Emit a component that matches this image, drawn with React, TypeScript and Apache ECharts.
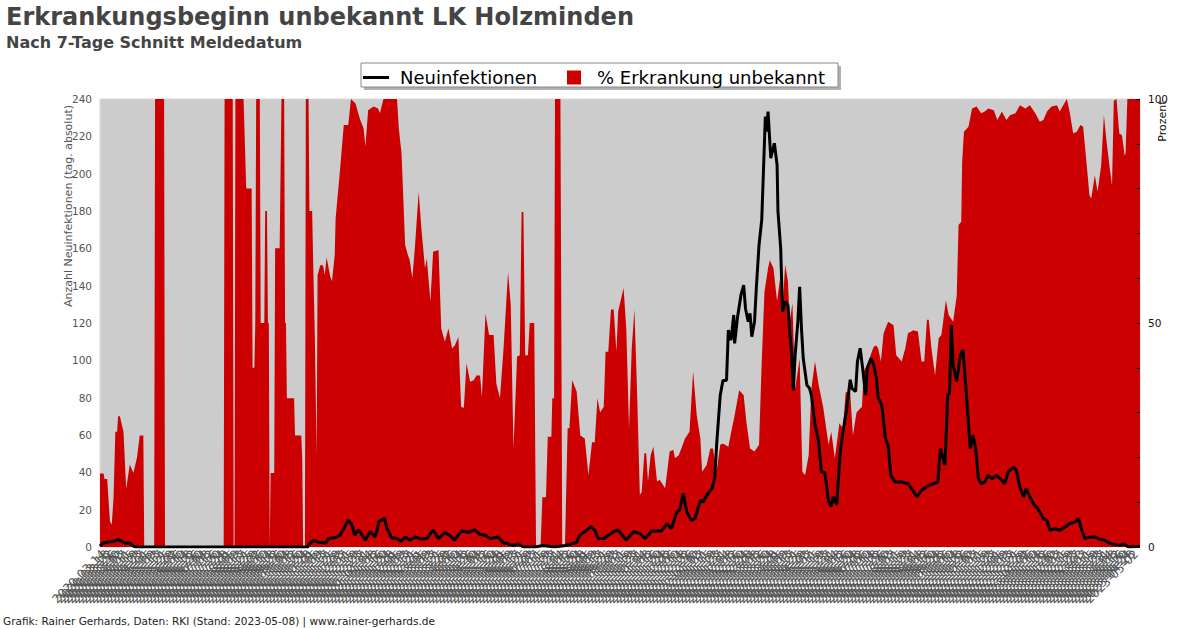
import { useEffect, useRef } from 'react';
import * as echarts from 'echarts';

// ---------- texts ----------
const TITLE = 'Erkrankungsbeginn unbekannt LK Holzminden';
const SUBTITLE = 'Nach 7-Tage Schnitt Meldedatum';
const FOOTER = 'Grafik: Rainer Gerhards, Daten: RKI (Stand: 2023-05-08) | www.rainer-gerhards.de';
const SERIES_CASES = 'Neuinfektionen';
const SERIES_PCT = '% Erkrankung unbekannt';
const LEFT_AXIS_NAME = 'Anzahl Neuinfektionen (tag. absolut)';
const RIGHT_AXIS_NAME = 'Prozent';

// ---------- categories (daily dates) ----------
const START_DATE = '2020-03-10';
const DAY_COUNT = 1153; // up to 2023-05-06
const RIGHT_TICK_LABELS = [0, 50, 100];

// ---------- values: [day index, value] ----------
// % Erkrankung unbekannt (right axis, percent)
const pctPoints: [number, number][] = [
  [0, 16.4], [4, 16.4], [5, 15.2], [8, 15.2], [11, 5.7], [13, 5], [15, 11], [17, 25.7], [19, 25.7], [20, 29.2], [22, 29.2],
  [26, 25.7], [29, 13], [33, 18.4], [37, 16.5], [41, 20], [44, 24.9], [48, 24.9], [49, 0], [60, 0], [61, 100], [71, 100],
  [72, 0], [137, 0], [138, 100], [147, 100], [148, 0], [149, 0], [150, 100], [159, 100], [162, 80], [168, 80], [169, 40],
  [171, 40], [172, 50], [173, 100], [177, 100], [178, 50], [182, 50], [183, 75], [185, 75], [186, 50], [187, 50], [188, 0],
  [189, 16.5], [193, 16.5], [194, 66.7], [199, 66.7], [201, 100], [204, 100], [205, 50], [206, 50], [207, 33.2], [215, 33.2],
  [216, 24.9], [223, 24.9], [224, 19.7], [225, 0], [227, 0], [228, 100], [231, 100], [232, 75], [235, 75], [236, 64.7],
  [238, 46.6], [240, 20.5], [241, 60.7], [244, 62.9], [247, 62.9], [249, 60.7], [251, 64.7], [255, 60.4], [257, 59.3],
  [260, 65.2], [261, 73.4], [266, 84.5], [270, 94.2], [275, 94.2], [278, 100], [283, 99], [288, 95.5], [292, 93.4],
  [294, 89.4], [297, 97.5], [303, 98.3], [308, 97.9], [310, 96.8], [314, 100], [329, 100], [331, 93.4], [334, 87.9],
  [338, 67.4], [341, 65.2], [343, 64.1], [346, 60], [349, 67.4], [353, 79.3], [356, 71.1], [360, 62.2], [362, 64.4],
  [366, 54.8], [369, 65.9], [375, 66.3], [378, 48.8], [382, 45.8], [386, 48.8], [390, 44.3], [393, 45], [397, 46.9],
  [400, 31.3], [403, 31], [406, 41], [410, 36.9], [414, 37.2], [417, 38.3], [421, 38.3], [423, 33.5], [427, 52.1],
  [431, 47.3], [436, 47.3], [439, 36.5], [443, 33.2], [447, 44.3], [452, 61.4], [455, 54], [458, 22], [462, 42.5],
  [465, 42.8], [467, 74.8], [469, 74.8], [471, 42.8], [474, 42.8], [476, 50], [481, 50], [483, 0], [488, 0], [490, 11.1],
  [494, 11.1], [496, 24.6], [500, 24.6], [501, 33.2], [503, 33.2], [504, 100], [510, 100], [512, 0], [515, 0], [518, 26.5],
  [520, 26.5], [523, 37.2], [528, 34.7], [532, 24.9], [537, 24.2], [541, 16], [545, 23.4], [548, 23.4], [551, 33.2],
  [554, 30], [558, 31.3], [560, 43.6], [563, 43.6], [566, 53], [569, 53], [572, 43.6], [574, 52.6], [580, 57.8],
  [583, 48.5], [586, 26.5], [589, 44.3], [592, 53], [595, 33.9], [598, 11.6], [600, 12.3], [603, 20.9], [605, 20.9],
  [607, 14.6], [610, 20.5], [613, 22.4], [617, 14.6], [620, 15], [626, 13.1], [631, 21.3], [635, 21.7], [637, 19.8],
  [641, 20.5], [644, 22], [648, 24.2], [653, 25.7], [657, 39.2], [661, 29.4], [665, 24.2], [667, 16.8], [672, 18.3],
  [676, 22], [679, 22], [683, 16.8], [687, 22.8], [690, 23.1], [696, 22.4], [700, 26.5], [703, 29.4], [708, 35],
  [713, 33.9], [716, 27.9], [720, 22], [725, 21.3], [730, 22.8], [733, 41.4], [736, 56.9], [740, 62.2], [742, 64],
  [746, 62.2], [750, 54.8], [753, 59.6], [756, 53.7], [759, 63], [762, 59.3], [764, 50.3], [767, 54.4], [770, 35.4],
  [775, 42.1], [778, 16.8], [781, 16], [785, 20.5], [788, 35.4], [792, 41.4], [796, 36.2], [801, 31.3], [807, 22.8],
  [810, 25.7], [814, 19.8], [819, 27.6], [823, 26.5], [826, 34.6], [831, 34.3], [834, 24.9], [838, 30], [844, 31.3],
  [846, 39.2], [851, 41.4], [857, 44.7], [860, 45], [862, 44.3], [865, 41.4], [868, 47.7], [873, 50.3], [879, 49.5],
  [882, 42.8], [888, 41.4], [892, 44.3], [895, 47.7], [901, 48.4], [906, 48.1], [910, 41.4], [913, 41.4], [916, 50.7],
  [918, 50.7], [921, 44.3], [925, 38.3], [929, 46.6], [932, 47.3], [937, 55.1], [940, 51.8], [945, 50.3], [949, 56.1],
  [951, 71.9], [954, 72.6], [955, 86], [957, 92.7], [962, 93.8], [966, 97.9], [971, 98.3], [976, 96.8], [980, 97.2],
  [984, 97.9], [990, 97.5], [994, 95.3], [999, 97.2], [1004, 95.3], [1008, 96.4], [1014, 96.8], [1019, 98.6],
  [1025, 97.9], [1030, 98.6], [1036, 96.8], [1041, 94.9], [1045, 95.3], [1049, 97.2], [1054, 98.3], [1060, 98.6],
  [1063, 97.2], [1067, 98.6], [1071, 100], [1074, 97.2], [1078, 92.3], [1082, 92.7], [1086, 94.2], [1089, 93.8],
  [1093, 85.2], [1096, 78.5], [1098, 77.8], [1102, 83], [1105, 79.3], [1109, 85.2], [1112, 96.4], [1115, 90.4],
  [1119, 83.7], [1121, 80.7], [1123, 99.6], [1126, 100], [1129, 92.3], [1132, 91.9], [1135, 87.4], [1136, 87.8],
  [1138, 100], [1152, 100],
];

// Neuinfektionen (left axis, absolute)
const casePoints: [number, number][] = [
  [0, 0.5], [3, 2], [10, 2.8], [15, 3], [20, 4], [24, 3], [28, 2], [33, 2], [37, 0.5], [40, 0], [230, 0], [231, 1],
  [236, 3.5], [242, 2.7], [250, 2], [253, 4.6], [260, 5], [266, 6.3], [270, 9.9], [275, 14.3], [279, 12], [282, 6.4],
  [286, 9.1], [288, 8.2], [294, 3.7], [299, 8.2], [305, 5.4], [309, 13.6], [315, 15.4], [318, 10], [323, 4.9], [329, 4.5],
  [334, 3.1], [338, 5.4], [343, 3.7], [349, 5.4], [356, 4.2], [362, 4.5], [369, 9.1], [375, 4.5], [382, 7.7], [388, 6],
  [393, 3.7], [400, 8.6], [408, 7.9], [415, 9.1], [421, 6.7], [427, 6.3], [432, 4.5], [441, 5.4], [447, 2.2], [452, 1.7],
  [458, 0.8], [463, 1.7], [469, 0], [482, 0], [491, 0.8], [504, 0], [515, 0.8], [523, 1.7], [528, 2.5], [532, 6.7],
  [537, 8.2], [544, 10.9], [548, 9.1], [552, 4.5], [558, 4.5], [563, 6.3], [569, 8.2], [574, 9.1], [578, 6.7], [583, 3.7],
  [591, 8.2], [598, 7.3], [604, 4.5], [611, 8.6], [622, 8.6], [628, 12.5], [633, 9.9], [639, 18.8], [642, 19.7],
  [646, 28.6], [650, 18.8], [655, 14.3], [659, 15.2], [665, 25], [668, 24.1], [672, 27.7], [678, 31.3], [681, 37.5],
  [683, 54.4], [687, 81.2], [690, 89.2], [694, 89.2], [696, 116.2], [699, 110.9], [702, 124.3], [703, 109.1], [706, 122.5],
  [710, 135], [713, 140.3], [715, 127.8], [718, 120.7], [720, 125.2], [722, 112.7], [725, 120.7], [727, 138.6],
  [730, 161.8], [733, 175.2], [735, 202.9], [737, 230.6], [738, 222.5], [740, 233.2], [743, 208.3], [747, 216.3],
  [750, 204.7], [751, 179.6], [754, 160], [756, 126], [759, 131.4], [762, 129.6], [764, 115.3], [766, 104.6], [768, 84],
  [770, 102.8], [773, 120.7], [775, 139.4], [777, 117.1], [779, 101], [783, 86.8], [786, 85], [788, 81.4], [792, 65.4],
  [796, 56.5], [799, 40.5], [803, 39.6], [807, 24.4], [810, 21.7], [812, 27], [816, 22.6], [820, 51.2], [823, 61.9],
  [827, 73.5], [831, 89.6], [833, 85], [837, 83.3], [839, 99.4], [842, 106.5], [845, 94.9], [848, 81.4], [850, 95.8],
  [854, 101], [857, 97.6], [860, 90.5], [862, 80], [866, 76], [870, 58.1], [873, 54.5], [876, 38.4], [881, 34.8],
  [888, 34.8], [895, 33.9], [899, 31.3], [905, 26.8], [910, 30.4], [918, 33], [923, 33.9], [928, 34.8], [931, 52.7],
  [936, 43.8], [939, 81.4], [941, 82.3], [943, 118.9], [945, 97.6], [949, 88.7], [953, 102.8], [956, 105.5], [960, 79.6],
  [964, 52.7], [967, 59.9], [970, 52.7], [973, 36.6], [976, 33.9], [980, 34.8], [984, 38.4], [988, 36.6], [993, 38.4],
  [999, 35.7], [1002, 33.9], [1006, 40.2], [1012, 42.9], [1015, 41.1], [1019, 32.1], [1023, 26.8], [1026, 31.3],
  [1030, 26.8], [1034, 23.2], [1039, 20.5], [1045, 15.2], [1049, 14.3], [1052, 8.9], [1058, 9.8], [1063, 8.9],
  [1069, 10.7], [1074, 12.5], [1080, 13.4], [1084, 15.2], [1087, 9.8], [1091, 4.5], [1097, 5.4], [1102, 5.4],
  [1108, 4.1], [1113, 3.6], [1119, 1.8], [1124, 1.4], [1130, 0.9], [1134, 1.8], [1139, 0], [1152, 0.3],
];

function buildDates(start: string, count: number): string[] {
  const out: string[] = [];
  const base = Date.parse(start + 'T00:00:00Z');
  for (let i = 0; i < count; i++) {
    out.push(new Date(base + i * 86400000).toISOString().slice(0, 10));
  }
  return out;
}

const FONT = '"DejaVu Sans", sans-serif';

export default function App() {
  const ref = useRef<HTMLDivElement>(null);

  useEffect(() => {
    if (!ref.current) return;
    const chart = echarts.init(ref.current, undefined, { renderer: 'svg' });
    const dates = buildDates(START_DATE, DAY_COUNT);

    const option: any = {
      animation: false,
      backgroundColor: '#ffffff',
      textStyle: { fontFamily: FONT },
      grid: {
        left: 100, right: 60, top: 99, bottom: 81,
        show: true, backgroundColor: '#cccccc', borderColor: '#d9d9d9', borderWidth: 1,
      },
      legend: [
        {
          data: [SERIES_CASES], left: 363, top: 68.5, padding: 0, icon: 'rect',
          itemWidth: 26, itemHeight: 3, selectedMode: false, z: 10,
          textStyle: { fontSize: 18, color: '#000', fontFamily: FONT, padding: [0, 0, 0, 6] },
        },
        {
          data: [SERIES_PCT], left: 567, top: 68.5, padding: 0, icon: 'rect',
          itemWidth: 14, itemHeight: 14, selectedMode: false, z: 10,
          itemStyle: { borderWidth: 0 },
          textStyle: { fontSize: 18, color: '#000', fontFamily: FONT, padding: [0, 0, 0, 11] },
        },
      ],
      xAxis: {
        type: 'category',
        data: dates,
        boundaryGap: false,
        axisLine: { show: false },
        axisTick: { show: false },
        splitLine: { show: false },
        axisLabel: { interval: 3, rotate: 45, fontSize: 12, color: '#555', margin: 5, fontFamily: FONT },
      },
      yAxis: [
        {
          type: 'value', min: 0, max: 240, interval: 20,
          axisLine: { show: false }, axisTick: { show: false }, splitLine: { show: false },
          axisLabel: { fontSize: 10.5, color: '#555', margin: 8, fontFamily: FONT },
        },
        {
          type: 'value', position: 'right', min: 0, max: 100, interval: 10, z: 6,
          axisLine: { show: false }, splitLine: { show: false },
          axisTick: { show: true, inside: true, length: 4, lineStyle: { color: '#000', width: 1 } },
          axisLabel: {
            fontSize: 10.5, color: '#111', margin: 8, fontFamily: FONT,
            formatter: (v: number) => (RIGHT_TICK_LABELS.includes(v) ? String(v) : ''),
          },
        },
      ],
      series: [
        {
          name: SERIES_PCT, type: 'line', yAxisIndex: 1, data: pctPoints,
          symbol: 'none', showSymbol: false, color: '#cc0000',
          itemStyle: { color: '#cc0000' },
          lineStyle: { width: 0, color: '#cc0000' },
          areaStyle: { color: '#cc0000', opacity: 1 },
          z: 2,
        },
        {
          name: SERIES_CASES, type: 'line', yAxisIndex: 0, data: casePoints,
          symbol: 'none', showSymbol: false, color: '#000000',
          itemStyle: { color: '#000000' },
          lineStyle: { width: 3, color: '#000000' },
          z: 3,
        },
      ],
      graphic: [
        {
          type: 'text', x: 6, y: 16.8, z: 5,
          style: { text: TITLE, fontSize: 24, fontWeight: 'bold', fontFamily: FONT, fill: '#444444', verticalAlign: 'middle' },
        },
        {
          type: 'text', x: 6, y: 42, z: 5,
          style: { text: SUBTITLE, fontSize: 16, fontWeight: 'bold', fontFamily: FONT, fill: '#444444', verticalAlign: 'middle' },
        },
        {
          type: 'text', x: 3, y: 621, z: 5,
          style: { text: FOOTER, fontSize: 10.5, fontFamily: FONT, fill: '#222222', verticalAlign: 'middle' },
        },
        {
          type: 'rect', z: 1, shape: { x: 364, y: 66, width: 477, height: 24 },
          style: { fill: '#b0b0b0' },
        },
        {
          type: 'rect', z: 1, shape: { x: 361, y: 63, width: 477, height: 24 },
          style: { fill: '#ffffff', stroke: '#888888', lineWidth: 1 },
        },
        {
          type: 'text', x: 68, y: 206, rotation: Math.PI / 2, z: 5,
          style: { text: LEFT_AXIS_NAME, fontSize: 11, fontFamily: FONT, fill: '#555555', align: 'center', verticalAlign: 'middle' },
        },
        {
          type: 'text', x: 1162, y: 121, rotation: Math.PI / 2, z: 5,
          style: { text: RIGHT_AXIS_NAME, fontSize: 11, fontFamily: FONT, fill: '#111111', align: 'center', verticalAlign: 'middle' },
        },
      ],
    };

    chart.setOption(option);
    return () => chart.dispose();
  }, []);

  return <div ref={ref} style={{ position: 'absolute', left: 0, top: 0, width: 1200, height: 628 }} />;
}
